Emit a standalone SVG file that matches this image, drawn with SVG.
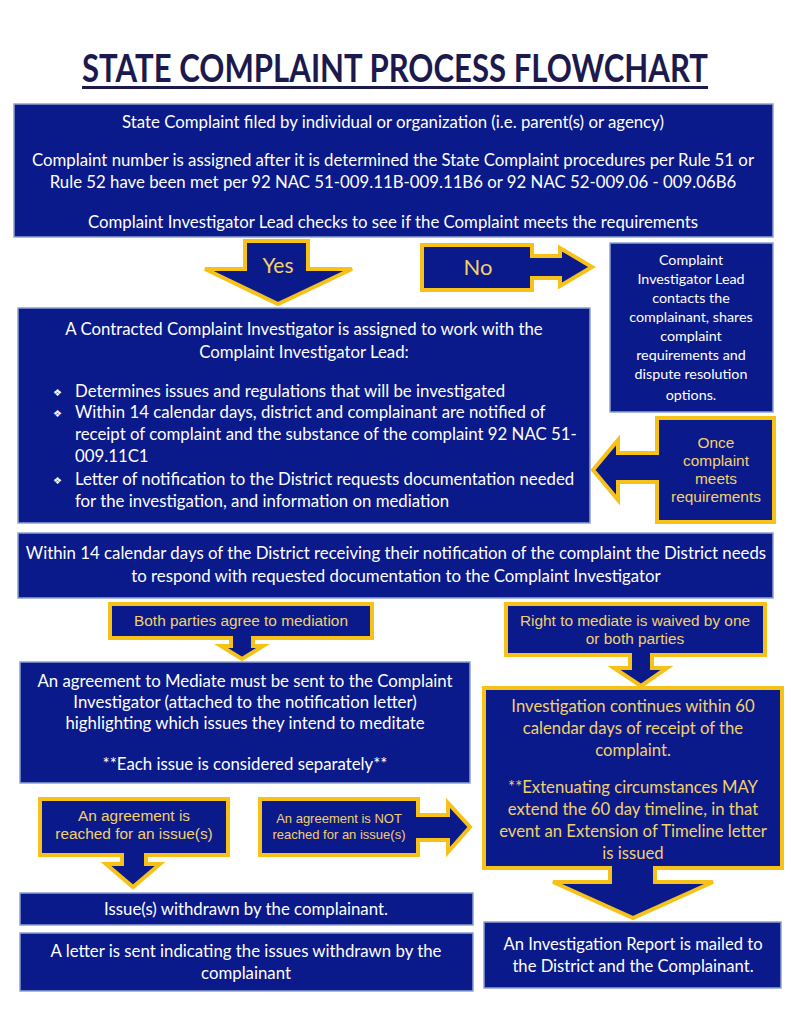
<svg xmlns="http://www.w3.org/2000/svg" width="791" height="1024" viewBox="0 0 791 1024">
<style>
.bg{fill:#ffffff}
.box{fill:#0b1a8b;stroke:#8ea2cf;stroke-width:1.5}
.yb{fill:#0b1a8b;stroke:#f6c21a;stroke-width:4;stroke-linejoin:miter}
.t{font-family:Lato,"Open Sans","Liberation Sans",sans-serif;font-size:16.8px;fill:#ffffff;text-anchor:middle}
.ty{font-family:Lato,"Open Sans","Liberation Sans",sans-serif;font-size:16.7px;fill:#f2d16b;text-anchor:middle}
.ta{font-family:"Liberation Sans",Arial,sans-serif;font-size:15.4px;fill:#f2d16b;text-anchor:middle}
.tl{font-family:Lato,"Open Sans","Liberation Sans",sans-serif;font-size:16.8px;fill:#ffffff}
.title{font-family:Lato,"Open Sans","Liberation Sans",sans-serif;font-size:39px;font-weight:bold;fill:#1c1a4d;text-anchor:middle}
</style>
<rect class="bg" x="0" y="0" width="791" height="1024"/>

<g id="title">
<text class="title" x="395" y="82" textLength="626" lengthAdjust="spacingAndGlyphs">STATE COMPLAINT PROCESS FLOWCHART</text>
<rect x="82" y="86" width="626" height="3" fill="#1c1a4d"/>
</g>

<g id="n-filed">
<rect class="box" x="14" y="104" width="759" height="133"/>
<text class="t" x="393" y="128">State Complaint filed by individual or organization (i.e. parent(s) or agency)</text>
<text class="t" x="393" y="166">Complaint number is assigned after it is determined the State Complaint procedures per Rule 51 or</text>
<text class="t" x="393" y="188">Rule 52 have been met per 92 NAC 51-009.11B-009.11B6 or 92 NAC 52-009.06 - 009.06B6</text>
<text class="t" x="393" y="228">Complaint Investigator Lead checks to see if the Complaint meets the requirements</text>
</g>

<g id="n-yes">
<polygon class="yb" points="245,241 308,241 308,269 352,269 278,304 205,269 245,269"/>
<text class="ty" x="278" y="273" style="font-size:21px">Yes</text>
</g>

<g id="n-no">
<polygon class="yb" points="422,245 532,245 532,256 560,256 560,248 592,267 560,286 560,278 532,278 532,290 422,290"/>
<text class="ty" x="478" y="275" style="font-size:22px">No</text>
</g>

<g id="n-contacts">
<rect class="box" x="610" y="243" width="163" height="169"/>
<text class="t" x="691" y="265" style="font-size:14.3px">Complaint</text>
<text class="t" x="691" y="284" style="font-size:14.3px">Investigator Lead</text>
<text class="t" x="691" y="303" style="font-size:14.3px">contacts the</text>
<text class="t" x="691" y="322" style="font-size:14.3px">complainant, shares</text>
<text class="t" x="691" y="341" style="font-size:14.3px">complaint</text>
<text class="t" x="691" y="360" style="font-size:14.3px">requirements and</text>
<text class="t" x="691" y="379" style="font-size:14.3px">dispute resolution</text>
<text class="t" x="691" y="400" style="font-size:14.3px">options.</text>
</g>

<g id="n-assigned">
<rect class="box" x="18" y="308" width="572" height="215"/>
<text class="t" x="304" y="335">A Contracted Complaint Investigator is assigned to work with the</text>
<text class="t" x="304" y="358">Complaint Investigator Lead:</text>
<text class="tl" x="53" y="396" style="font-size:10px">❖</text>
<text class="tl" x="75" y="397">Determines issues and regulations that will be investigated</text>
<text class="tl" x="53" y="417" style="font-size:10px">❖</text>
<text class="tl" x="75" y="418">Within 14 calendar days, district and complainant are notified of</text>
<text class="tl" x="75" y="440">receipt of complaint and the substance of the complaint 92 NAC 51-</text>
<text class="tl" x="75" y="462">009.11C1</text>
<text class="tl" x="53" y="484" style="font-size:10px">❖</text>
<text class="tl" x="75" y="485">Letter of notification to the District requests documentation needed</text>
<text class="tl" x="75" y="507">for the investigation, and information on mediation</text>
</g>

<g id="n-once">
<polygon class="yb" points="657,418 774,418 774,522 657,522 657,482 618,482 618,500 593,470 618,440 618,453 657,453"/>
<text class="ta" x="716" y="448">Once</text>
<text class="ta" x="716" y="466">complaint</text>
<text class="ta" x="716" y="484">meets</text>
<text class="ta" x="716" y="502">requirements</text>
</g>

<g id="n-respond">
<rect class="box" x="18" y="533" width="755" height="65"/>
<text class="t" x="396" y="559">Within 14 calendar days of the District receiving their notification of the complaint the District needs</text>
<text class="t" x="396" y="582">to respond with requested documentation to the Complaint Investigator</text>
</g>

<g id="n-both">
<polygon class="yb" points="110,604 372,604 372,638 253,638 253,646 263,646 242,659 221,646 231,646 231,638 110,638"/>
<text class="ta" x="241" y="626">Both parties agree to mediation</text>
</g>

<g id="n-waived">
<polygon class="yb" points="506,604 765,604 765,655 652,655 652,668 667,668 641,686 614,668 630,668 630,655 506,655"/>
<text class="ta" x="635" y="626">Right to mediate is waived by one</text>
<text class="ta" x="635" y="644">or both parties</text>
</g>

<g id="n-mediate">
<rect class="box" x="20" y="662" width="450" height="121"/>
<text class="t" x="245" y="687">An agreement to Mediate must be sent to the Complaint</text>
<text class="t" x="245" y="708">Investigator (attached to the notification letter)</text>
<text class="t" x="245" y="729">highlighting which issues they intend to meditate</text>
<text class="t" x="245" y="770">**Each issue is considered separately**</text>
</g>

<g id="n-investigation">
<rect class="yb" x="484" y="688" width="298" height="180"/>
<text class="ty" x="633" y="712">Investigation continues within 60</text>
<text class="ty" x="633" y="734">calendar days of receipt of the</text>
<text class="ty" x="633" y="756">complaint.</text>
<text class="ty" x="633" y="793">**Extenuating circumstances MAY</text>
<text class="ty" x="633" y="815">extend the 60 day timeline, in that</text>
<text class="ty" x="633" y="837">event an Extension of Timeline letter</text>
<text class="ty" x="633" y="859">is issued</text>
</g>

<g id="n-reached">
<polygon class="yb" points="40,799 228,799 228,855 146,855 146,864 160,864 133,887 106,864 122,864 122,855 40,855"/>
<text class="ta" x="134" y="821">An agreement is</text>
<text class="ta" x="134" y="839">reached for an issue(s)</text>
</g>

<g id="n-notreached">
<polygon class="yb" points="260,799 418,799 418,815 448,815 448,803 470,827 448,852 448,840 418,840 418,855 260,855"/>
<text class="ta" x="339" y="823" style="font-size:13px">An agreement is NOT</text>
<text class="ta" x="339" y="839" style="font-size:13px">reached for an issue(s)</text>
</g>

<g id="connectors">
<path d="M610,866 L610,882 L553,882 L633,918 L713,882 L655,882 L655,866" fill="#0b1a8b" stroke="#f6c21a" stroke-width="4"/>
</g>

<g id="n-withdrawn">
<rect class="box" x="20" y="893" width="453" height="32"/>
<text class="t" x="246" y="915">Issue(s) withdrawn by the complainant.</text>
</g>

<g id="n-letter">
<rect class="box" x="20" y="933" width="453" height="58"/>
<text class="t" x="246" y="957">A letter is sent indicating the issues withdrawn by the</text>
<text class="t" x="246" y="979">complainant</text>
</g>

<g id="n-report">
<rect class="box" x="484" y="922" width="297" height="66"/>
<text class="t" x="633" y="950" style="font-size:16.6px">An Investigation Report is mailed to</text>
<text class="t" x="633" y="972" style="font-size:16.6px">the District and the Complainant.</text>
</g>
</svg>
